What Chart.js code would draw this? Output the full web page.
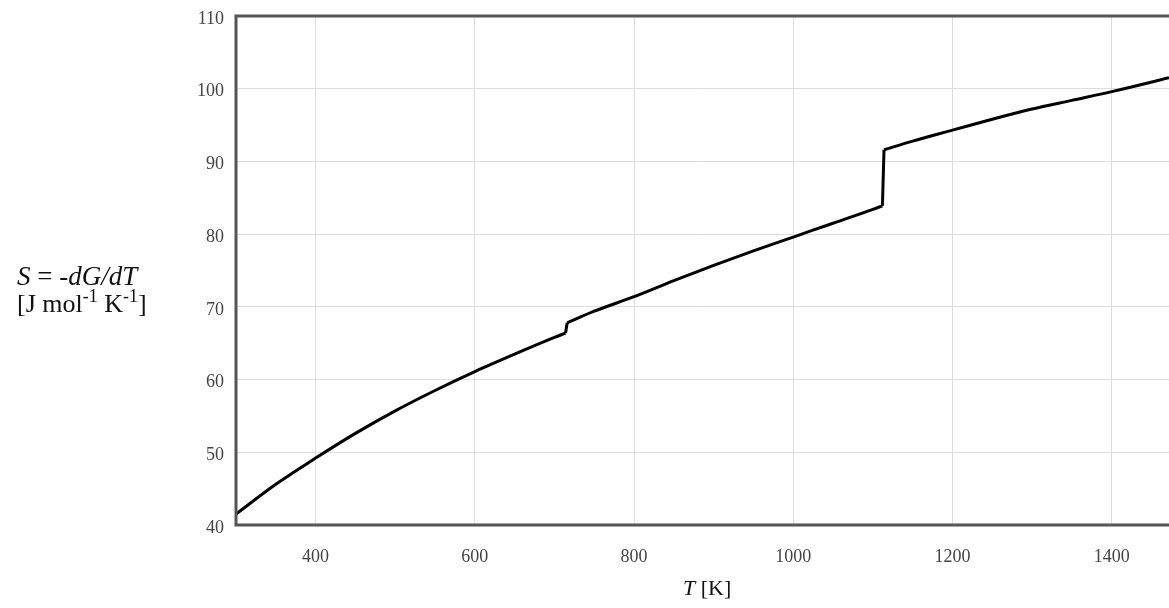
<!DOCTYPE html>
<html>
<head>
<meta charset="utf-8">
<script src="https://cdn.jsdelivr.net/npm/chart.js@4/dist/chart.umd.min.js"></script>
<style>
    body { margin: 0; background: #fff; }
    #wrap { width: 1169px; height: 608px; position: relative; }
</style>
</head>
<body>
<div id="wrap"><canvas id="entropychart"></canvas></div>
<script>
// temperature [K] and entropy S [J mol-1 K-1]
const temps = [300, 350, 400, 450, 500, 550, 600, 650, 700, 714, 716, 750, 800, 850, 900, 950,
    1000, 1050, 1100, 1112, 1114, 1150, 1200, 1250, 1300, 1350, 1400, 1472];
const entropy = [41.5, 45.6, 49.2, 52.6, 55.7, 58.5, 61.1, 63.5, 65.8, 66.4, 67.8, 69.4, 71.4, 73.6, 75.7, 77.7,
    79.6, 81.5, 83.4, 83.9, 91.6, 92.8, 94.3, 95.8, 97.2, 98.4, 99.6, 101.5];

// index ranges of the three phases (smooth pieces) and the two jumps
const phases = [[0, 9], [10, 19], [20, 27]];
const jumps = [[9, 10], [19, 20]];

const xTicks = [400, 600, 800, 1000, 1200, 1400];
const yTicks = [40, 50, 60, 70, 80, 90, 100, 110];

function pts(from, to) {
    var out = [];
    for (var i = from; i <= to; i++) out.push({ x: temps[i], y: entropy[i] });
    return out;
}

const datasets = phases.map(function (r) {
    return {
        data: pts(r[0], r[1]),
        showLine: true,
        borderColor: '#000',
        borderWidth: 3,
        pointRadius: 0,
        cubicInterpolationMode: 'monotone',
        fill: false
    };
});
jumps.forEach(function (r) {
    datasets.push({
        data: pts(r[0], r[1]),
        showLine: true,
        borderColor: '#000',
        borderWidth: 3,
        pointRadius: 0,
        tension: 0,
        fill: false
    });
});

// draws the dark frame (left, top, bottom) and the axis titles
const framePlugin = {
    id: 'frame',
    afterDraw: function (chart) {
        const ctx = chart.ctx;
        const a = chart.chartArea;
        ctx.save();
        ctx.strokeStyle = '#555';
        ctx.lineWidth = 3;
        ctx.beginPath();
        ctx.moveTo(chart.width + 2, a.top);
        ctx.lineTo(a.left, a.top);
        ctx.lineTo(a.left, a.bottom);
        ctx.lineTo(chart.width + 2, a.bottom);
        ctx.stroke();

        ctx.fillStyle = '#111';
        ctx.textBaseline = 'alphabetic';
        ctx.textAlign = 'left';

        function run(parts, x, y, size) {
            parts.forEach(function (p) {
                const s = p.sup ? Math.round(size * 0.7) : size;
                ctx.font = (p.i ? 'italic ' : '') + s + 'px "Liberation Serif"';
                ctx.fillText(p.t, x, y - (p.sup ? Math.round(size * 0.38) : 0));
                x += ctx.measureText(p.t).width;
            });
        }

        // y title
        run([{ t: 'S', i: true }, { t: ' = ', i: false }, { t: '-dG/dT', i: true }], 17, 285, 27);
        run([{ t: '[J mol' }, { t: '-1', sup: true }, { t: ' K' }, { t: '-1', sup: true }, { t: ']' }], 17, 312, 26);

        // x title
        run([{ t: 'T', i: true }, { t: ' [K]' }], 683, 595, 22);
        ctx.restore();
    }
};

const config = {
    type: 'scatter',
    data: { datasets: datasets },
    options: {
        responsive: true,
        maintainAspectRatio: false,
        animation: false,
        layout: { padding: { top: 0, right: 0, left: 0, bottom: 0 } },
        plugins: {
            legend: { display: false },
            tooltip: { enabled: false }
        },
        scales: {
            x: {
                type: 'linear',
                min: 300,
                max: 1472,
                afterBuildTicks: function (scale) {
                    scale.ticks = xTicks.map(function (v) { return { value: v }; });
                },
                afterFit: function (scale) { scale.height = 83; },
                grid: { color: '#ddd', lineWidth: 1, drawTicks: false },
                border: { display: false },
                ticks: {
                    color: '#444',
                    padding: 21,
                    font: { family: 'Liberation Serif', size: 18 },
                    callback: function (v) { return String(v); }
                }
            },
            y: {
                min: 40,
                max: 110,
                afterBuildTicks: function (scale) {
                    scale.ticks = yTicks.map(function (v) { return { value: v }; });
                },
                afterFit: function (scale) {
                    scale.width = 236;
                    scale.paddingTop = 16;
                    scale.paddingBottom = 0;
                },
                grid: { color: '#ddd', lineWidth: 1, drawTicks: false },
                border: { display: false },
                ticks: {
                    color: '#444',
                    padding: 12,
                    labelOffset: 3,
                    font: { family: 'Liberation Serif', size: 18 },
                    callback: function (v) { return String(v); }
                }
            }
        }
    },
    plugins: [framePlugin]
};

const myChart = new Chart(document.getElementById('entropychart'), config);
</script>
</body>
</html>
